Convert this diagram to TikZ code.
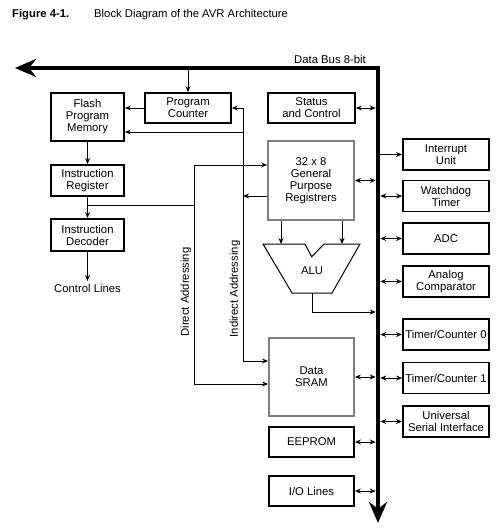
\documentclass[tikz,border=0pt]{standalone}
\usepackage{fontspec}
\setmainfont{Liberation Sans}
\usetikzlibrary{arrows.meta,positioning}
\definecolor{avrgray}{HTML}{808080}
\tikzset{
  >={Stealth[length=6pt,width=5pt]},
  avrtxt/.style={font=\fontsize{11.3}{12}\selectfont, align=center, inner sep=1pt},
  avrbox/.style={avrtxt, draw=black, line width=1.8pt},
  avrmem/.style={avrtxt, draw=avrgray, line width=1.8pt},
  avrside/.style={avrbox, minimum width=86pt, minimum height=31pt},
  avrline/.style={black, line width=0.9pt},
  avrlink/.style={avrline, <->},
  avrbus/.style={black, line width=4.5pt,
                 arrows={Stealth[length=21pt,width=18pt]-Stealth[length=21pt,width=18pt]}},
}

\begin{document}
\begin{tikzpicture}[x=1pt,y=-1pt]
  \useasboundingbox (0,0) rectangle (498,529);

  % caption
  \node[avrtxt, font=\fontsize{11.3}{12}\selectfont\bfseries, anchor=base west] (fig) at (11,18) {Figure 4-1.};
  \node[avrtxt, anchor=base west] (title) at (93,18) {Block Diagram of the AVR Architecture};

  % data bus
  \coordinate (busl) at (15,68);
  \coordinate (busc) at (378,68);
  \coordinate (busb) at (378,523);
  \draw[avrbus] (busl) -- (busc) -- (busb);
  \node[avrtxt] (buslbl) at (330,59) {Data Bus 8-bit};

  % program side
  \node[avrbox, minimum width=73pt, minimum height=48pt] (flash) at (87.5,117) {Flash\\Program\\Memory};
  \node[avrbox, minimum width=86pt, minimum height=30pt] (pc) at (188,108) {Program\\Counter};
  \node[avrbox, minimum width=73pt, minimum height=31pt] (ir) at (87.5,180.5) {Instruction\\Register};
  \node[avrbox, minimum width=73pt, minimum height=32pt] (dec) at (87.5,235) {Instruction\\Decoder};
  \node[avrtxt, inner sep=3pt, below=29pt of dec] (ctrl) {Control Lines};

  \draw[avrline,->] (pc.north |- busc) -- (pc.north);
  \draw[avrline,->] (pc.west) -- (pc.west -| flash.east);
  \draw[avrline,->] (flash) -- (ir);
  \draw[avrline,->] (ir) -- (dec);
  \draw[avrline,->] (dec) -- (ctrl);

  % data side
  \node[avrbox, minimum width=87pt, minimum height=30pt] (stat) at (311.5,108) {Status\\and Control};
  \node[avrmem, minimum width=86pt, minimum height=79pt] (regs) at (311,180.5) {32 x 8\\General\\Purpose\\Registrers};
  \node[avrmem, minimum width=85pt, minimum height=78pt] (sram) at (311.5,377) {Data\\SRAM};
  \node[avrbox, minimum width=85pt, minimum height=30pt] (eeprom) at (311.5,442) {EEPROM};
  \node[avrbox, minimum width=85pt, minimum height=30pt] (io) at (311.5,491) {I/O Lines};

  % alu
  \coordinate (aluinl) at (281,244);
  \coordinate (aluinr) at (342,244);
  \coordinate (aluout) at (312,293);
  \coordinate (aluturn) at (312,312);
  \draw[avrline, line width=1pt] (263,244) -- (305,244) -- (311.7,256.7) -- (324,244) -- (360,244)
    -- (332,293) -- (292,293) -- cycle;
  \node[avrtxt] (alu) at (312,271) {ALU};
  \draw[avrline,->] (regs.south -| aluinl) -- (aluinl);
  \draw[avrline,->] (regs.south -| aluinr) -- (aluinr);
  \draw[avrline,->,shorten >=2.3pt] (aluout) -- (aluturn) -- (aluturn -| busc);

  % peripherals
  \node[avrside] (intr) at (446,154.5) {Interrupt\\Unit};
  \node[avrside] (wdt) at (446,196) {Watchdog\\Timer};
  \node[avrside] (adc) at (446,238.5) {ADC};
  \node[avrside] (acmp) at (446,281.5) {Analog\\Comparator};
  \node[avrside] (tc0) at (446,334.5) {Timer/Counter 0};
  \node[avrside] (tc1) at (446,378) {Timer/Counter 1};
  \node[avrside] (usi) at (446,421.5) {Universal\\Serial Interface};

  \draw[avrline,->,shorten <=2.3pt] (busc |- intr.west) -- (intr.west);
  \foreach \p in {wdt,adc,acmp,tc0,tc1,usi}
    \draw[avrlink,shorten <=2.3pt] (busc |- \p.west) -- (\p.west);
  \foreach \p in {stat,regs,sram,eeprom,io}
    \draw[avrlink,shorten >=2.3pt] (\p.east) -- (\p.east -| busc);

  % direct addressing
  \coordinate (dirtop) at (194,165);
  \coordinate (dirbot) at (194,384);
  \coordinate (dirjoin) at (87.5,205);
  \draw[avrline] (dirjoin) -- (dirjoin -| dirtop);
  \draw[avrlink] (dirtop -| regs.west) -- (dirtop) -- (dirbot) -- (dirbot -| sram.west);
  \node[avrtxt, rotate=90] (dirlbl) at (186,292) {Direct Addressing};

  % indirect addressing
  \coordinate (indflash) at (243,132);
  \coordinate (indregs) at (243,196);
  \coordinate (indbot) at (243,361);
  \draw[avrlink] (pc.east) -- (pc.east -| indbot) -- (indbot) -- (indbot -| sram.west);
  \draw[avrline,->] (indflash) -- (indflash -| flash.east);
  \draw[avrline,->] (indregs -| regs.west) -- (indregs);
  \node[avrtxt, rotate=90] (indlbl) at (235,289) {Indirect Addressing};

\end{tikzpicture}
\end{document}
